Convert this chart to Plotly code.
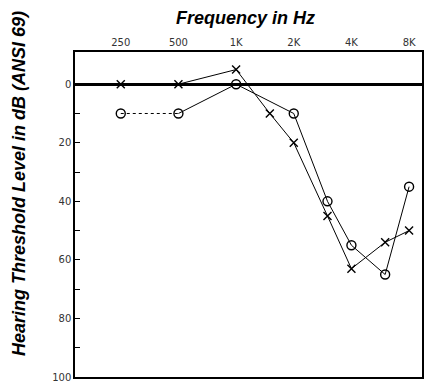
import plotly.graph_objects as go

# Data
x_freqs = [250, 500, 1000, 1500, 2000, 3000, 4000, 6000, 8000]
x_levels = [0, 0, -5, 10, 20, 45, 63, 54, 50]

o_freqs = [250, 500, 1000, 2000, 3000, 4000, 6000, 8000]
o_levels = [10, 10, 0, 10, 40, 55, 65, 35]

tick_freqs = [250, 500, 1000, 2000, 4000, 8000]
tick_labels = ["250", "500", "1K", "2K", "4K", "8K"]

y_tickvals = [0, 10, 20, 30, 40, 50, 60, 70, 80, 90, 100]
y_ticktext = ["0", "", "20", "", "40", "", "60", "", "80", "", "100"]

fig = go.Figure()

def add_series(freqs, levels, symbol, size):
    # dotted segment between 250 and 500 Hz
    fig.add_trace(go.Scatter(x=freqs[:2], y=levels[:2], mode="lines",
                             line=dict(color="black", width=1, dash="dot"),
                             showlegend=False, hoverinfo="skip"))
    fig.add_trace(go.Scatter(x=freqs[1:], y=levels[1:], mode="lines",
                             line=dict(color="black", width=1),
                             showlegend=False, hoverinfo="skip"))
    fig.add_trace(go.Scatter(x=freqs, y=levels, mode="markers",
                             marker=dict(symbol=symbol, size=size, color="black",
                                         line=dict(color="black", width=1.4)),
                             showlegend=False))

add_series(o_freqs, o_levels, "circle-open", 9)
add_series(x_freqs, x_levels, "x-thin-open", 8)

fig.update_layout(
    width=427, height=386,
    margin=dict(l=75, r=3, t=52, b=7),
    paper_bgcolor="white", plot_bgcolor="white",
    title=dict(text="Frequency in Hz", x=0.575, xanchor="center", y=0.955, yanchor="middle",
               font=dict(family="Liberation Sans", size=18, color="black",
                         weight="bold", style="italic")),
    annotations=[dict(text="Hearing Threshold Level in dB (ANSI 69)",
                      xref="paper", yref="paper", x=-0.163, y=0.595,
                      xanchor="center", yanchor="middle", textangle=-90,
                      showarrow=False,
                      font=dict(family="Liberation Sans", size=18, color="black",
                                weight="bold", style="italic"))],
)

fig.update_xaxes(
    type="log", side="top",
    range=[2.159, 3.9705],
    tickvals=tick_freqs, ticktext=tick_labels,
    tickfont=dict(family="DejaVu Sans", size=10, color="#333"),
    showgrid=False, zeroline=False, ticks="",
    showline=True, linecolor="black", linewidth=1.5, mirror=True,
)

fig.update_yaxes(
    range=[100, -11],
    tickvals=y_tickvals, ticktext=y_ticktext,
    ticks="inside", ticklen=5, tickcolor="black", tickwidth=1,
    tickfont=dict(family="DejaVu Sans", size=10, color="#333"),
    showgrid=False,
    zeroline=True, zerolinecolor="black", zerolinewidth=3,
    showline=True, linecolor="black", linewidth=1.5, mirror=True,
)

fig.write_html("out.html", config={"displayModeBar": False},
               post_script="document.body.style.margin='0';document.body.style.overflow='hidden';")
